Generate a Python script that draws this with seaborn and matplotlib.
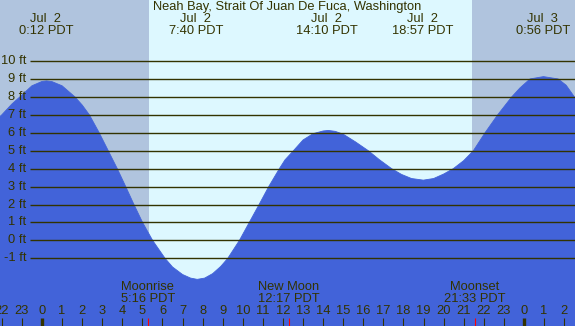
import matplotlib
matplotlib.use("Agg")
import matplotlib.pyplot as plt
import seaborn as sns
import pandas as pd

# ---------------- data ----------------
title = "Neah Bay, Strait Of Juan De Fuca, Washington"

tide_hours = [-2.09, -2.00, -1.50, -1.10, -0.50, 0.00, 0.23, 0.50, 1.00, 1.64,
              2.00, 2.36, 2.85, 3.30, 3.75, 4.17, 4.58, 5.01, 5.51, 6.13,
              6.50, 7.00, 7.40, 7.73, 8.10, 8.50, 8.90, 9.25, 9.83, 10.32,
              10.81, 11.29, 11.82, 12.10, 12.52, 13.00, 13.50, 14.00, 14.26, 14.60,
              15.00, 15.60, 16.25, 16.80, 17.41, 17.90, 18.40, 18.99, 19.50, 20.00,
              20.48, 21.00, 21.48, 22.06, 22.69, 23.39, 23.80, 24.30, 24.97, 25.70,
              26.10, 26.51, 26.54]
tide_heights = [6.91, 7.00, 7.60, 8.00, 8.62, 8.86, 8.89, 8.85, 8.62, 8.00,
                7.55, 7.00, 6.00, 5.00, 4.00, 3.00, 2.00, 1.00, 0.00, -1.00,
                -1.48, -1.90, -2.10, -2.17, -2.10, -1.85, -1.45, -1.00, 0.00, 1.00,
                2.00, 3.00, 4.00, 4.49, 5.00, 5.60, 5.95, 6.10, 6.13, 6.08,
                5.92, 5.50, 5.00, 4.50, 4.00, 3.68, 3.45, 3.36, 3.45, 3.70,
                4.00, 4.45, 5.00, 6.00, 7.00, 8.00, 8.50, 9.00, 9.13, 9.00,
                8.65, 8.00, 7.95]

event_hours = [0.20, 7.667, 14.167, 18.95, 24.933]
event_dates = ["Jul  2", "Jul  2", "Jul  2", "Jul  2", "Jul  3"]
event_times = ["0:12 PDT", "7:40 PDT", "14:10 PDT", "18:57 PDT", "0:56 PDT"]

moon_hours = [5.267, 12.283, 21.55]
moon_names = ["Moonrise", "New Moon", "Moonset"]
moon_times = ["5:16 PDT", "12:17 PDT", "21:33 PDT"]

sunrise_hour = 5.33
sunset_hour = 21.41

grid_ft = list(range(-1, 11))
hour_ticks = list(range(-2, 27))
hour_labels = [str(h % 24) for h in hour_ticks]

# ---------------- style ----------------
W, H = 575, 326
x_min, x_max = -2.09, 26.54
y_min, y_max = -4.77, 13.40
txt = "#333300"
night = "#B0C4DE"
day = "#DDF8FF"
water = "#4263D9"
fs = 9.3

sns.set_theme(style="white")
plt.rcParams["font.family"] = ["Liberation Sans", "DejaVu Sans"]

fig = plt.figure(figsize=(W / 100, H / 100), dpi=100)
ax = fig.add_axes([0, 0, 1, 1])
ax.set_xlim(x_min, x_max)
ax.set_ylim(y_min, y_max)

ax.axvspan(x_min, sunrise_hour, color=night, lw=0, zorder=0)
ax.axvspan(sunrise_hour, sunset_hour, color=day, lw=0, zorder=0)
ax.axvspan(sunset_hour, x_max, color=night, lw=0, zorder=0)

df = pd.DataFrame({"hour": tide_hours, "height": tide_heights})
ax.fill_between(df["hour"], y_min, df["height"], color=water, lw=0, zorder=1)
sns.lineplot(data=df, x="hour", y="height", ax=ax, color=water, lw=0.6,
             zorder=1, legend=False)
ax.set_xlim(x_min, x_max)
ax.set_ylim(y_min, y_max)
ax.axis("off")

ax.hlines(grid_ft, -0.62, x_max, color=txt, lw=1.0, zorder=2)
for v in grid_ft:
    ax.text(-0.78, v, f"{v} ft", ha="right", va="center", fontsize=fs,
            color=txt, zorder=3)

xt = ax.get_xaxis_transform()


def fy(px):
    return 1 - px / H


ax.text(0.5, fy(7), title, transform=ax.transAxes, ha="center", va="center",
        fontsize=fs, color=txt)
for h, d, t in zip(event_hours, event_dates, event_times):
    ax.text(h, fy(19.5), d, transform=xt, ha="center", va="center",
            fontsize=fs, color=txt)
    ax.text(h, fy(31), t, transform=xt, ha="center", va="center",
            fontsize=fs, color=txt)

for h, n, t in zip(moon_hours, moon_names, moon_times):
    ax.text(h, fy(287), n, transform=xt, ha="center", va="center",
            fontsize=fs, color=txt)
    ax.text(h, fy(299.5), t, transform=xt, ha="center", va="center",
            fontsize=fs, color=txt)

for h, lab in zip(hour_ticks, hour_labels):
    ax.text(h, fy(311.5), lab, transform=xt, ha="center", va="center",
            fontsize=fs, color=txt)
    lw = 2.4 if h % 24 == 0 else 0.8
    ax.vlines(h, 0, fy(318), transform=xt, color=txt, lw=lw, zorder=3)

for h in moon_hours:
    ax.vlines(h, 0, fy(318), transform=xt, color="red", lw=0.8, zorder=3)

fig.savefig("out.png", dpi=100)
